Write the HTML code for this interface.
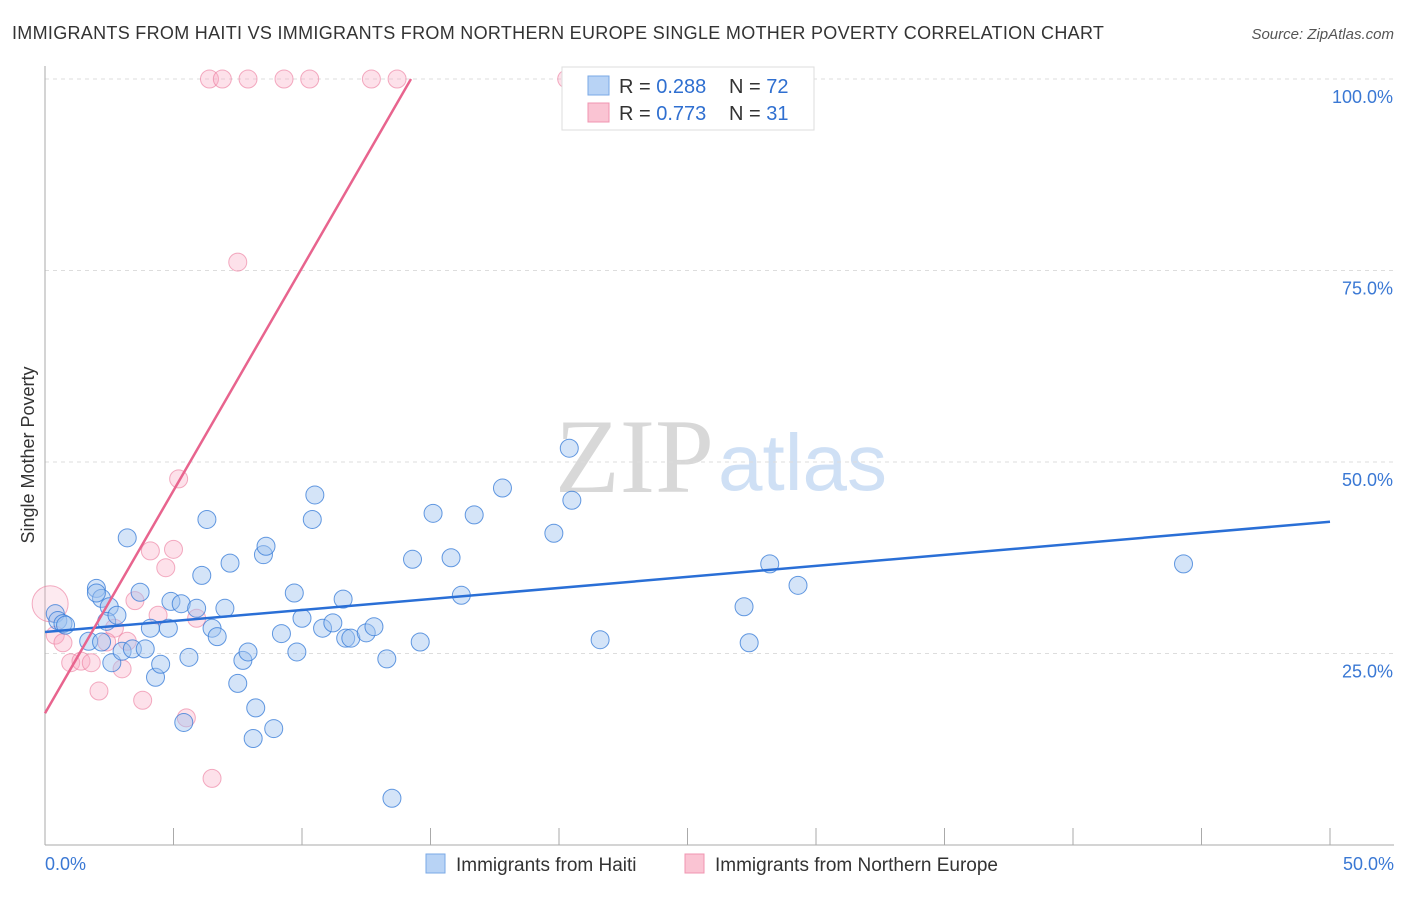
<!DOCTYPE html>
<html><head><meta charset="utf-8"><style>
body{margin:0;background:#fff;font-family:"Liberation Sans",sans-serif;}
</style></head><body>
<svg id="chart" width="1406" height="892" xmlns="http://www.w3.org/2000/svg" style="font-family:'Liberation Sans',sans-serif">
<text x="12" y="39" font-size="18" letter-spacing="0.3" fill="#333">IMMIGRANTS FROM HAITI VS IMMIGRANTS FROM NORTHERN EUROPE SINGLE MOTHER POVERTY CORRELATION CHART</text>
<text x="1394" y="39" font-size="15" fill="#555" font-style="italic" text-anchor="end">Source: ZipAtlas.com</text>
<text x="555" y="492" font-size="106" fill="#d8d8d8" font-family="Liberation Serif,serif">ZIP</text>
<text x="718" y="490" font-size="80" fill="#cfe0f5">atlas</text>
<text x="34" y="455" font-size="18" fill="#333" transform="rotate(-90 34 455)" text-anchor="middle">Single Mother Poverty</text>
<g id="grid"></g><g id="axes"></g><g id="pts"></g><g id="lines"></g>
<g>
<rect x="562" y="67" width="252" height="63" fill="#fff" stroke="#ddd"/>
<rect x="588" y="76" width="21" height="19" fill="#b8d3f5" stroke="#7aa8e6"/>
<rect x="588" y="103" width="21" height="19" fill="#fac4d3" stroke="#f095b0"/>
<text x="619" y="93" font-size="20" fill="#333">R = <tspan fill="#2f6fd0">0.288</tspan><tspan x="729">N = </tspan><tspan fill="#2f6fd0">72</tspan></text>
<text x="619" y="120" font-size="20" fill="#333">R = <tspan fill="#2f6fd0">0.773</tspan><tspan x="729">N = </tspan><tspan fill="#2f6fd0"> 31</tspan></text>
</g>
<g>
<rect x="426" y="854" width="19" height="19" fill="#b8d3f5" stroke="#7aa8e6"/>
<text x="456" y="871" font-size="19" fill="#333">Immigrants from Haiti</text>
<rect x="685" y="854" width="19" height="19" fill="#fac4d3" stroke="#f095b0"/>
<text x="715" y="871" font-size="19" fill="#333">Immigrants from Northern Europe</text>
</g>
</svg>
<script>
const xTicks=[0,5,10,15,20,25,30,35,40,45,50];
const yTicks=[25,50,75,100];
const haitiX=[2.0,2.2,2.5,2.0,0.4,0.5,0.7,0.8,1.7,2.2,2.4,2.6,2.8,3.0,3.2,3.4,3.7,3.9,4.1,4.3,4.5,4.8,4.9,5.3,5.4,5.6,5.9,6.1,6.3,6.5,6.7,7.0,7.2,7.5,7.7,7.9,8.2,8.1,8.5,8.6,8.9,9.2,9.7,9.8,10.0,10.4,10.5,10.8,11.2,11.6,11.7,11.9,12.5,12.8,13.3,13.5,14.3,14.6,15.1,15.8,16.2,16.7,17.8,19.8,20.4,20.5,21.6,27.2,27.4,28.2,29.3,44.3];
const haitiY=[33.5,32.2,31.1,32.9,30.2,29.3,28.9,28.7,26.6,26.5,29.2,23.8,30.0,25.3,40.1,25.6,33.0,25.6,28.3,21.9,23.6,28.3,31.8,31.5,16.0,24.5,30.9,35.2,42.5,28.3,27.2,30.9,36.8,21.1,24.1,25.2,17.9,13.9,37.9,39.0,15.2,27.6,32.9,25.2,29.6,42.5,45.7,28.3,29.0,32.1,27.0,27.0,27.7,28.5,24.3,6.1,37.3,26.5,43.3,37.5,32.6,43.1,46.6,40.7,51.8,45.0,26.8,31.1,26.4,36.7,33.9,36.7];
const euroX=[6.4,6.9,7.9,9.3,10.3,12.7,13.7,20.3,7.5,5.2,4.1,5.0,4.7,3.5,4.4,5.9,2.7,2.4,0.2,0.4,0.7,1.0,1.4,1.8,3.0,2.1,3.8,5.5,6.5,3.2];
const euroY=[100,100,100,100,100,100,100,100,76.1,47.8,38.4,38.6,36.2,31.9,30.0,29.6,28.3,26.5,31.5,27.4,26.4,23.8,24.0,23.8,23.0,20.1,18.9,16.6,8.7,26.6];
const big=[18];
const haitiLine=[27.8,42.2];
const euroLine=[17.2,100,14.24];
const X=v=>45+v/50*1285, Y=v=>845-v/100*766;
const ns="http://www.w3.org/2000/svg";
function mk(t,a,p){const e=document.createElementNS(ns,t);for(const k in a)e.setAttribute(k,a[k]);document.getElementById(p).appendChild(e);return e;}
yTicks.forEach(t=>{
 const l=mk('line',{x1:45,x2:1394,y1:Y(t),y2:Y(t),stroke:'#ddd','stroke-dasharray':'4 4'},'grid');
 
 
 const tx=mk('text',{x:1393,y:Y(t)+24,'font-size':18,fill:'#3a78d4','text-anchor':'end'},'axes');
 tx.textContent=t.toFixed(1)+'%';
 
 
});
mk('line',{x1:45,x2:45,y1:66,y2:845,stroke:'#aaa'},'axes');
mk('line',{x1:45,x2:1394,y1:845,y2:845,stroke:'#aaa'},'axes');
xTicks.forEach(t=>{const l=mk('line',{x1:X(t),x2:X(t),y1:828,y2:845,stroke:'#aaa'},'axes');
 
 });
[[0,'start',45],[50,'end',1394]].forEach(([v,a,x])=>{const tx=mk('text',{x:x,y:870,'font-size':18,fill:'#3a78d4','text-anchor':a},'axes');tx.textContent=v.toFixed(1)+'%';
 
 });
euroX.forEach((v,i)=>{const c=mk('circle',{cx:X(v),cy:Y(euroY[i]),r:big.includes(i)?18:9,fill:big.includes(i)?'rgba(248,170,195,0.25)':'rgba(248,170,195,0.35)',stroke:'rgba(235,120,155,0.6)','stroke-width':1},'pts');
 
 });
haitiX.forEach((v,i)=>{const c=mk('circle',{cx:X(v),cy:Y(haitiY[i]),r:9,fill:'rgba(160,195,240,0.45)',stroke:'rgba(50,120,215,0.75)','stroke-width':1},'pts');
 
 });
const hl=mk('line',{x1:X(0),y1:Y(haitiLine[0]),x2:X(50),y2:Y(haitiLine[1]),stroke:'#2a6fd6','stroke-width':2.5},'lines');


const el=mk('line',{x1:X(0),y1:Y(euroLine[0]),x2:X(euroLine[2]),y2:Y(euroLine[1]),stroke:'#e8648e','stroke-width':2.5},'lines');


</script>
</body></html>
